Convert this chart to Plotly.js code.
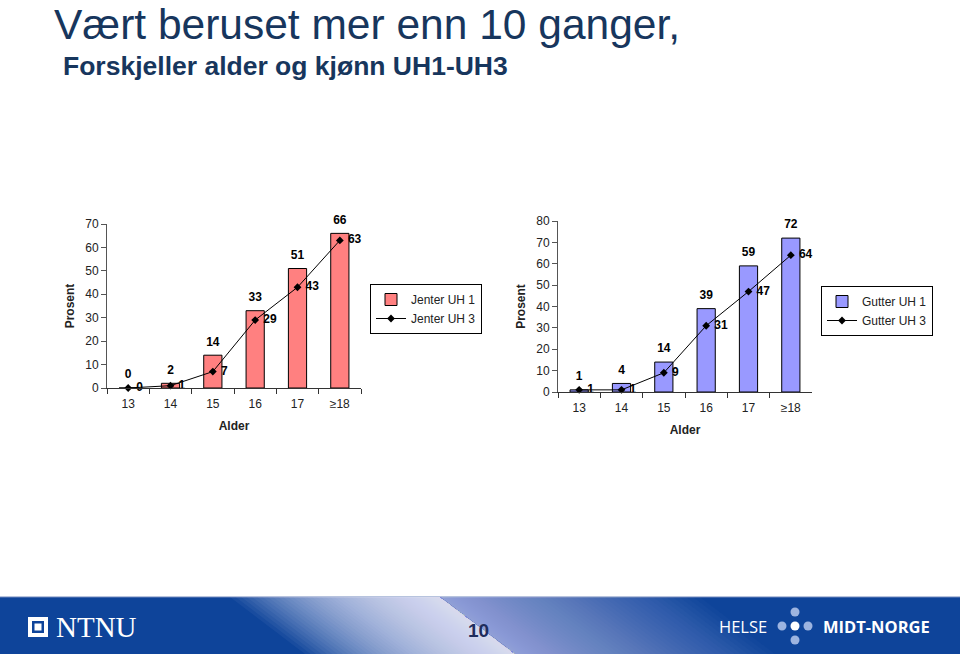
<!DOCTYPE html>
<html><head><meta charset="utf-8">
<script src="https://cdn.plot.ly/plotly-3.0.1.min.js"></script>
<style>html,body{margin:0;padding:0;background:#fff}#chart{width:960px;height:654px}</style>
</head><body><div id="chart"></div>
<script>
// ---- data ----
const ages = ['13', '14', '15', '16', '17', '≥18'];
const jenterUH1 = [0, 2, 14, 33, 51, 66];
const jenterUH3 = [0, 1, 7, 29, 43, 63];
const gutterUH1 = [1, 4, 14, 39, 59, 72];
const gutterUH3 = [1, 1, 9, 31, 47, 64];

const W = 960, H = 654;
const px = x => x / W, py = y => 1 - y / H;
const FONT = "Arial, 'Liberation Sans', sans-serif";
const lblFont = {family: FONT, size: 12, color: '#000', weight: 'bold'};

function chartTraces(xa, ya, barVals, lineVals, barName, lineName, color, legend) {
  return [
    {type: 'bar', x: ages, y: barVals, xaxis: xa, yaxis: ya, name: barName, legend: legend,
     width: 0.43, marker: {color: color, line: {color: '#000', width: 1}}, hoverinfo: 'y'},
    {type: 'scatter', mode: 'markers+text', x: ages, y: barVals, xaxis: xa, yaxis: ya,
     text: barVals.map(String), textposition: 'top center', textfont: lblFont,
     marker: {size: 9, opacity: 0}, showlegend: false, hoverinfo: 'skip', cliponaxis: false},
    {type: 'scatter', mode: 'lines+markers+text', x: ages, y: lineVals, xaxis: xa, yaxis: ya,
     name: lineName, legend: legend, text: lineVals.map(v => ' ' + v), textposition: 'middle right',
     textfont: lblFont, cliponaxis: false,
     line: {color: '#000', width: 1}, marker: {symbol: 'diamond', size: 6, color: '#000'}}
  ];
}

const data = [
  ...chartTraces('x', 'y', jenterUH1, jenterUH3, 'Jenter UH 1', 'Jenter UH 3', '#FF8080', 'legend'),
  ...chartTraces('x2', 'y2', gutterUH1, gutterUH3, 'Gutter UH 1', 'Gutter UH 3', '#9999FF', 'legend2')
];

function xAxis(l, r, anchor) {
  return {domain: [px(l), px(r)], anchor: anchor, type: 'category', showline: true, linecolor: '#333',
    linewidth: 1, ticks: 'outside', tickson: 'boundaries', ticklen: 5, tickcolor: '#333',
    ticklabelstandoff: 5,
    tickfont: {family: FONT, size: 12, color: '#222'}, showgrid: false, zeroline: false,
    title: {text: 'Alder', font: {family: FONT, size: 12, color: '#222', weight: 'bold'}, standoff: 11}};
}
function yAxis(top, bottom, max, anchor) {
  return {domain: [py(bottom), py(top)], anchor: anchor, range: [0, max], dtick: 10, showline: true,
    linecolor: '#555', linewidth: 1, ticks: 'outside', ticklen: 5, tickcolor: '#555',
    tickfont: {family: FONT, size: 12, color: '#222'}, showgrid: false, zeroline: false,
    title: {text: 'Prosent', font: {family: FONT, size: 12, color: '#222', weight: 'bold'}, standoff: 8}};
}

// footer shapes
const shapes = [];
const bandTop = 597;
shapes.push({type: 'rect', xref: 'paper', yref: 'paper', x0: 0, x1: 1, y0: 0, y1: py(bandTop),
  fillcolor: '#0E449A', line: {width: 0}, layer: 'below'});
shapes.push({type: 'line', xref: 'paper', yref: 'paper', x0: 0, x1: 1, y0: py(bandTop), y1: py(bandTop),
  line: {color: '#6F86BC', width: 1}, layer: 'below'});
function para(a, b) {
  const t = 440, bt = 515;
  return `M${px(t + a)},${py(bandTop)} L${px(t + b)},${py(bandTop)} L${px(bt + b)},${py(H)} L${px(bt + a)},${py(H)} Z`;
}
const N = 60;
for (let i = 1; i <= N; i++) {
  const a = -210 * Math.pow(i / N, 1.6);
  shapes.push({type: 'path', xref: 'paper', yref: 'paper', path: para(a, 0),
    fillcolor: 'rgba(240,242,252,0.05)', line: {width: 0}, layer: 'below'});
}
for (let i = 1; i <= N; i++) {
  const b = 260 * Math.pow(i / N, 1.6);
  shapes.push({type: 'path', xref: 'paper', yref: 'paper', path: para(0, b),
    fillcolor: 'rgba(212,216,240,0.024)', line: {width: 0}, layer: 'below'});
}
// NTNU logo square
shapes.push({type: 'rect', xref: 'paper', yref: 'paper', x0: px(28), x1: px(48), y0: py(637), y1: py(617),
  fillcolor: '#fff', line: {width: 0}});
shapes.push({type: 'rect', xref: 'paper', yref: 'paper', x0: px(32), x1: px(44), y0: py(633), y1: py(621),
  fillcolor: '#0E449A', line: {width: 0}});
shapes.push({type: 'rect', xref: 'paper', yref: 'paper', x0: px(34.5), x1: px(41.5), y0: py(630.5), y1: py(623.5),
  fillcolor: '#fff', line: {width: 0}});
// Helse Midt-Norge dots
const dots = [[795, 612, '#9DB4E0'], [782, 626, '#9DB4E0'], [808, 626, '#9DB4E0'], [795, 640, '#9DB4E0'], [795, 626, '#fff']];
dots.forEach(d => shapes.push({type: 'circle', xref: 'paper', yref: 'paper',
  x0: px(d[0] - 4.5), x1: px(d[0] + 4.5), y0: py(d[1] + 4.5), y1: py(d[1] - 4.5), fillcolor: d[2], line: {width: 0}}));

const annotations = [
  {text: 'Vært beruset mer enn 10 ganger,', xref: 'paper', yref: 'paper', x: px(53), y: 1,
   xanchor: 'left', yanchor: 'top', showarrow: false, borderpad: 0,
   font: {family: FONT, size: 42.5, color: '#17365D'}},
  {text: 'Forskjeller alder og kjønn UH1-UH3', xref: 'paper', yref: 'paper', x: px(61), y: py(66),
   xanchor: 'left', yanchor: 'middle', showarrow: false, font: {family: FONT, size: 26.5, color: '#17365D', weight: 'bold'}},
  {text: 'NTNU', xref: 'paper', yref: 'paper', x: px(54), y: py(627), xanchor: 'left', yanchor: 'middle',
   showarrow: false, font: {family: "'Liberation Serif', 'DejaVu Serif', serif", size: 29, color: '#fff'}},
  {text: '10', xref: 'paper', yref: 'paper', x: px(478), y: py(630), xanchor: 'center', yanchor: 'middle',
   showarrow: false, font: {family: FONT, size: 19, color: '#1F2D5C', weight: 'bold'}},
  {text: 'HELSE', xref: 'paper', yref: 'paper', x: px(717), y: py(626), xanchor: 'left', yanchor: 'middle',
   showarrow: false, font: {family: "'Open Sans', 'DejaVu Sans', sans-serif", size: 16.5, color: '#fff'}},
  {text: 'MIDT-NORGE', xref: 'paper', yref: 'paper', x: px(821), y: py(626), xanchor: 'left', yanchor: 'middle',
   showarrow: false, font: {family: "'Open Sans', 'DejaVu Sans', sans-serif", size: 16.5, color: '#fff', weight: 'bold'}}
];

const legendBase = {xanchor: 'left', yanchor: 'top', bordercolor: '#000', borderwidth: 1, bgcolor: '#fff',
  font: {family: FONT, size: 12, color: '#222'}, tracegroupgap: 0, itemwidth: 30};

const layout = {
  width: W, height: H, margin: {l: 0, r: 0, t: 0, b: 0},
  paper_bgcolor: '#fff', plot_bgcolor: 'rgba(0,0,0,0)',
  font: {family: FONT, size: 12, color: '#222'},
  xaxis: xAxis(107, 361, 'y'),
  yaxis: yAxis(224, 388, 70, 'x'),
  xaxis2: xAxis(558, 812, 'y2'),
  yaxis2: yAxis(221, 392, 80, 'x2'),
  legend: Object.assign({}, legendBase, {x: px(370), y: py(284)}),
  legend2: Object.assign({}, legendBase, {x: px(821), y: py(286)}),
  shapes: shapes,
  annotations: annotations,
  showlegend: true,
  hovermode: 'closest'
};

Plotly.newPlot('chart', data, layout, {displayModeBar: false, responsive: false});
</script>
</body></html>
